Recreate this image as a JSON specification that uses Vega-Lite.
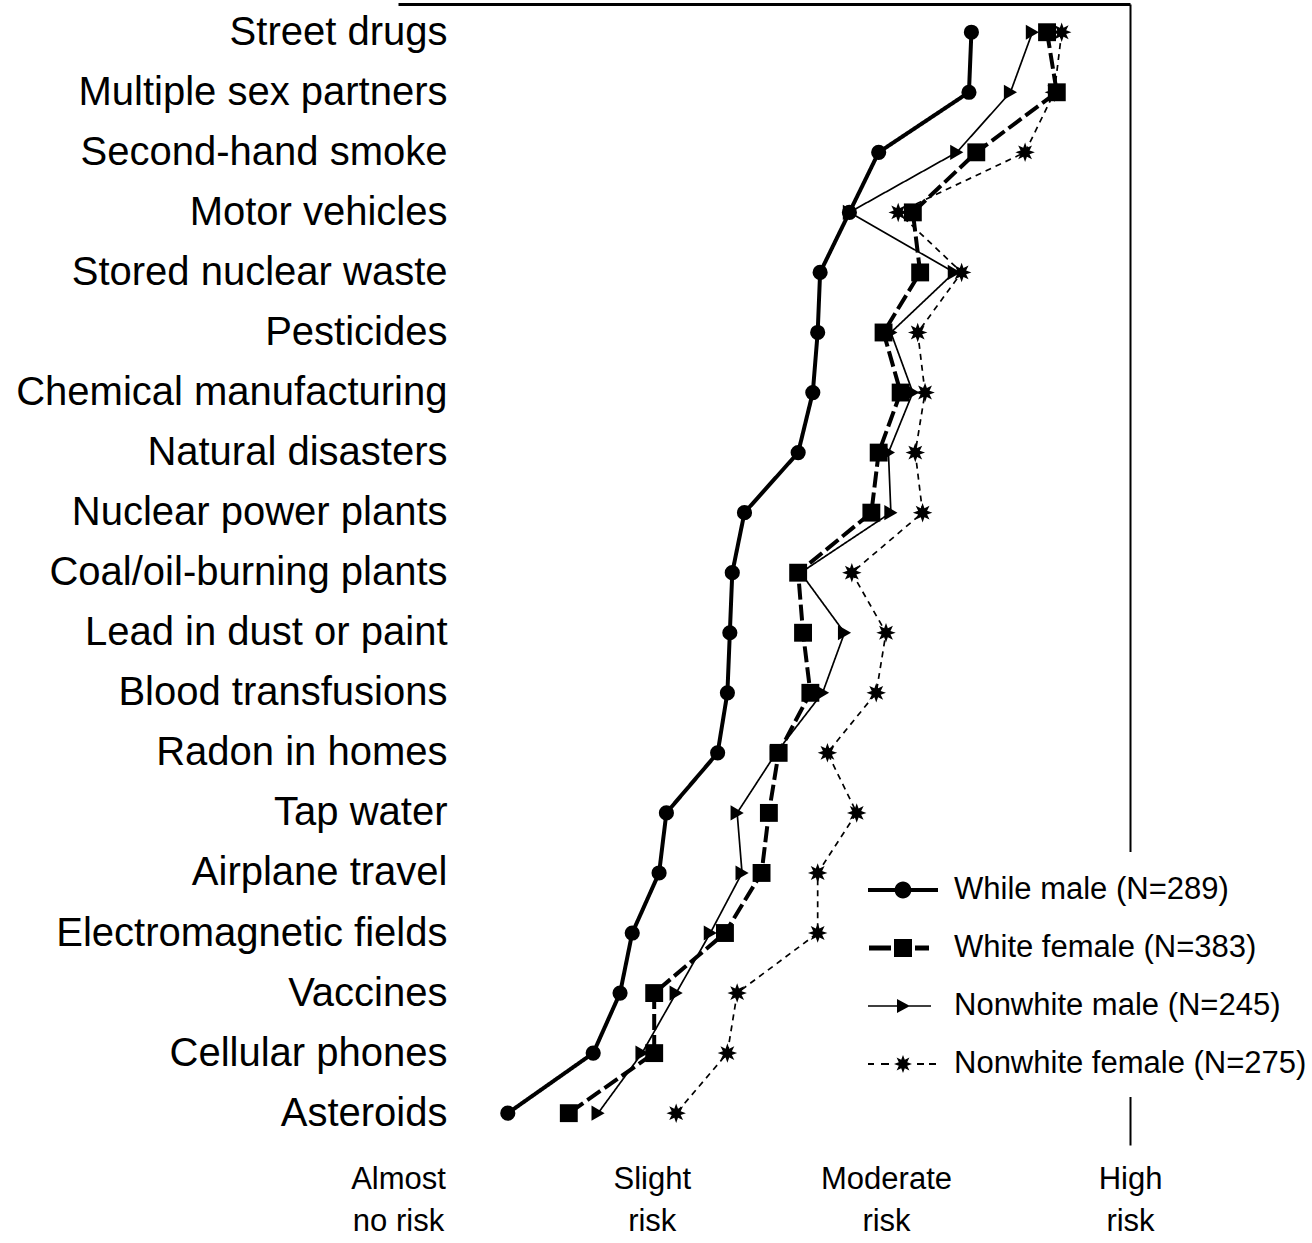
{
  "$schema": "https://vega.github.io/schema/vega-lite/v6.json",
  "autosize": "none",
  "padding": {"left": 398, "top": 4, "right": 182, "bottom": 98},
  "width": 732,
  "height": 1141,
  "background": "white",
  "config": {"view": {"stroke": null}, "font": "Liberation Sans"},
  "data": {"values": [
    {"risk": "Street drugs", "group": "While male (N=289)", "value": 3.35},
    {"risk": "Multiple sex partners", "group": "While male (N=289)", "value": 3.34},
    {"risk": "Second-hand smoke", "group": "While male (N=289)", "value": 2.97},
    {"risk": "Motor vehicles", "group": "While male (N=289)", "value": 2.85},
    {"risk": "Stored nuclear waste", "group": "While male (N=289)", "value": 2.73},
    {"risk": "Pesticides", "group": "While male (N=289)", "value": 2.72},
    {"risk": "Chemical manufacturing", "group": "While male (N=289)", "value": 2.70},
    {"risk": "Natural disasters", "group": "While male (N=289)", "value": 2.64},
    {"risk": "Nuclear power plants", "group": "While male (N=289)", "value": 2.42},
    {"risk": "Coal/oil-burning plants", "group": "While male (N=289)", "value": 2.37},
    {"risk": "Lead in dust or paint", "group": "While male (N=289)", "value": 2.36},
    {"risk": "Blood transfusions", "group": "While male (N=289)", "value": 2.35},
    {"risk": "Radon in homes", "group": "While male (N=289)", "value": 2.31},
    {"risk": "Tap water", "group": "While male (N=289)", "value": 2.10},
    {"risk": "Airplane travel", "group": "While male (N=289)", "value": 2.07},
    {"risk": "Electromagnetic fields", "group": "While male (N=289)", "value": 1.96},
    {"risk": "Vaccines", "group": "While male (N=289)", "value": 1.91},
    {"risk": "Cellular phones", "group": "While male (N=289)", "value": 1.80},
    {"risk": "Asteroids", "group": "While male (N=289)", "value": 1.45},
    {"risk": "Street drugs", "group": "White female (N=383)", "value": 3.66},
    {"risk": "Multiple sex partners", "group": "White female (N=383)", "value": 3.70},
    {"risk": "Second-hand smoke", "group": "White female (N=383)", "value": 3.37},
    {"risk": "Motor vehicles", "group": "White female (N=383)", "value": 3.11},
    {"risk": "Stored nuclear waste", "group": "White female (N=383)", "value": 3.14},
    {"risk": "Pesticides", "group": "White female (N=383)", "value": 2.99},
    {"risk": "Chemical manufacturing", "group": "White female (N=383)", "value": 3.06},
    {"risk": "Natural disasters", "group": "White female (N=383)", "value": 2.97},
    {"risk": "Nuclear power plants", "group": "White female (N=383)", "value": 2.94},
    {"risk": "Coal/oil-burning plants", "group": "White female (N=383)", "value": 2.64},
    {"risk": "Lead in dust or paint", "group": "White female (N=383)", "value": 2.66},
    {"risk": "Blood transfusions", "group": "White female (N=383)", "value": 2.69},
    {"risk": "Radon in homes", "group": "White female (N=383)", "value": 2.56},
    {"risk": "Tap water", "group": "White female (N=383)", "value": 2.52},
    {"risk": "Airplane travel", "group": "White female (N=383)", "value": 2.49},
    {"risk": "Electromagnetic fields", "group": "White female (N=383)", "value": 2.34},
    {"risk": "Vaccines", "group": "White female (N=383)", "value": 2.05},
    {"risk": "Cellular phones", "group": "White female (N=383)", "value": 2.05},
    {"risk": "Asteroids", "group": "White female (N=383)", "value": 1.70},
    {"risk": "Street drugs", "group": "Nonwhite male (N=245)", "value": 3.60},
    {"risk": "Multiple sex partners", "group": "Nonwhite male (N=245)", "value": 3.51},
    {"risk": "Second-hand smoke", "group": "Nonwhite male (N=245)", "value": 3.29},
    {"risk": "Motor vehicles", "group": "Nonwhite male (N=245)", "value": 2.85},
    {"risk": "Stored nuclear waste", "group": "Nonwhite male (N=245)", "value": 3.28},
    {"risk": "Pesticides", "group": "Nonwhite male (N=245)", "value": 3.02},
    {"risk": "Chemical manufacturing", "group": "Nonwhite male (N=245)", "value": 3.11},
    {"risk": "Natural disasters", "group": "Nonwhite male (N=245)", "value": 3.01},
    {"risk": "Nuclear power plants", "group": "Nonwhite male (N=245)", "value": 3.02},
    {"risk": "Coal/oil-burning plants", "group": "Nonwhite male (N=245)", "value": 2.65},
    {"risk": "Lead in dust or paint", "group": "Nonwhite male (N=245)", "value": 2.83},
    {"risk": "Blood transfusions", "group": "Nonwhite male (N=245)", "value": 2.74},
    {"risk": "Radon in homes", "group": "Nonwhite male (N=245)", "value": 2.55},
    {"risk": "Tap water", "group": "Nonwhite male (N=245)", "value": 2.39},
    {"risk": "Airplane travel", "group": "Nonwhite male (N=245)", "value": 2.41},
    {"risk": "Electromagnetic fields", "group": "Nonwhite male (N=245)", "value": 2.28},
    {"risk": "Vaccines", "group": "Nonwhite male (N=245)", "value": 2.14},
    {"risk": "Cellular phones", "group": "Nonwhite male (N=245)", "value": 2.00},
    {"risk": "Asteroids", "group": "Nonwhite male (N=245)", "value": 1.82},
    {"risk": "Street drugs", "group": "Nonwhite female (N=275)", "value": 3.72},
    {"risk": "Multiple sex partners", "group": "Nonwhite female (N=275)", "value": 3.69},
    {"risk": "Second-hand smoke", "group": "Nonwhite female (N=275)", "value": 3.57},
    {"risk": "Motor vehicles", "group": "Nonwhite female (N=275)", "value": 3.05},
    {"risk": "Stored nuclear waste", "group": "Nonwhite female (N=275)", "value": 3.31},
    {"risk": "Pesticides", "group": "Nonwhite female (N=275)", "value": 3.13},
    {"risk": "Chemical manufacturing", "group": "Nonwhite female (N=275)", "value": 3.16},
    {"risk": "Natural disasters", "group": "Nonwhite female (N=275)", "value": 3.12},
    {"risk": "Nuclear power plants", "group": "Nonwhite female (N=275)", "value": 3.15},
    {"risk": "Coal/oil-burning plants", "group": "Nonwhite female (N=275)", "value": 2.86},
    {"risk": "Lead in dust or paint", "group": "Nonwhite female (N=275)", "value": 3.00},
    {"risk": "Blood transfusions", "group": "Nonwhite female (N=275)", "value": 2.96},
    {"risk": "Radon in homes", "group": "Nonwhite female (N=275)", "value": 2.76},
    {"risk": "Tap water", "group": "Nonwhite female (N=275)", "value": 2.88},
    {"risk": "Airplane travel", "group": "Nonwhite female (N=275)", "value": 2.72},
    {"risk": "Electromagnetic fields", "group": "Nonwhite female (N=275)", "value": 2.72},
    {"risk": "Vaccines", "group": "Nonwhite female (N=275)", "value": 2.39},
    {"risk": "Cellular phones", "group": "Nonwhite female (N=275)", "value": 2.35},
    {"risk": "Asteroids", "group": "Nonwhite female (N=275)", "value": 2.14}
  ]},
  "layer": [
    {
      "mark": {"type": "line", "color": "black"},
      "encoding": {
        "x": {"field": "value", "type": "quantitative",
          "scale": {"domain": [1, 4], "nice": false, "zero": false},
          "axis": {"orient": "bottom", "title": null, "domain": false, "ticks": false, "grid": false,
            "values": [1, 2.04, 3, 4],
            "labelExpr": "datum.value == 1 ? ['Almost', 'no risk'] : datum.value == 4 ? ['High', 'risk'] : datum.value < 2.5 ? ['Slight', 'risk'] : ['Moderate', 'risk']",
            "labelFontSize": 31, "labelLineHeight": 42, "labelPadding": 19, "labelBaseline": "top",
            "labelColor": "black", "labelFont": "Liberation Sans", "labelFlush": false, "labelOverlap": false, "labelAlign": "center"}},
        "y": {"field": "risk", "type": "nominal",
          "sort": ["Street drugs", "Multiple sex partners", "Second-hand smoke", "Motor vehicles", "Stored nuclear waste", "Pesticides", "Chemical manufacturing", "Natural disasters", "Nuclear power plants", "Coal/oil-burning plants", "Lead in dust or paint", "Blood transfusions", "Radon in homes", "Tap water", "Airplane travel", "Electromagnetic fields", "Vaccines", "Cellular phones", "Asteroids"],
          "scale": {"type": "point", "padding": 0.5, "align": 0.47},
          "axis": {"orient": "left", "title": null, "domain": false, "ticks": false, "grid": false,
            "labelFontSize": 40, "labelPadding": 0, "offset": -49, "labelLimit": 700,
            "labelColor": "black", "labelFont": "Liberation Sans"}},
        "detail": {"field": "group", "type": "nominal"},
        "strokeDash": {"condition": [
          {"test": "datum.group === 'White female (N=383)'", "value": [16, 5]},
          {"test": "datum.group === 'Nonwhite female (N=275)'", "value": [6, 5]}
        ], "value": [1, 0]},
        "strokeWidth": {"condition": {"test": "datum.group === 'While male (N=289)' || datum.group === 'White female (N=383)'", "value": 4}, "value": 1.7},
        "order": {"value": null}
      }
    },
    {
      "mark": {"type": "point", "filled": true, "color": "black", "opacity": 1},
      "encoding": {
        "x": {"field": "value", "type": "quantitative",
          "axis": {"orient": "top", "title": null, "labels": false, "ticks": false, "grid": false,
            "domain": true, "domainColor": "black", "domainWidth": 3}},
        "y": {"field": "risk", "type": "nominal",
          "sort": ["Street drugs", "Multiple sex partners", "Second-hand smoke", "Motor vehicles", "Stored nuclear waste", "Pesticides", "Chemical manufacturing", "Natural disasters", "Nuclear power plants", "Coal/oil-burning plants", "Lead in dust or paint", "Blood transfusions", "Radon in homes", "Tap water", "Airplane travel", "Electromagnetic fields", "Vaccines", "Cellular phones", "Asteroids"],
          "axis": {"orient": "right", "title": null, "labels": false, "ticks": false, "grid": false,
            "domain": true, "domainColor": "black", "domainWidth": 2}},
        "shape": {"field": "group", "type": "nominal", "legend": null,
          "scale": {"domain": ["While male (N=289)", "White female (N=383)", "Nonwhite male (N=245)", "Nonwhite female (N=275)"],
            "range": ["circle", "square", "triangle-right", "M1,0L0.46,0.19L0.71,0.71L0.19,0.46L0,1L-0.19,0.46L-0.71,0.71L-0.46,0.19L-1,0L-0.46,-0.19L-0.71,-0.71L-0.19,-0.46L0,-1L0.19,-0.46L0.71,-0.71L0.46,-0.19Z"]}},
        "size": {"condition": [
          {"test": "datum.group === 'White female (N=383)'", "value": 320},
          {"test": "datum.group === 'Nonwhite female (N=275)'", "value": 380}
        ], "value": 230}
      }
    },
    {
      "mark": {"type": "point", "filled": true, "color": "black", "opacity": 0, "strokeWidth": 0},
      "encoding": {
        "x": {"field": "value", "type": "quantitative", "axis": null},
        "y": {"field": "risk", "type": "nominal", "axis": null,
          "sort": ["Street drugs", "Multiple sex partners", "Second-hand smoke", "Motor vehicles", "Stored nuclear waste", "Pesticides", "Chemical manufacturing", "Natural disasters", "Nuclear power plants", "Coal/oil-burning plants", "Lead in dust or paint", "Blood transfusions", "Radon in homes", "Tap water", "Airplane travel", "Electromagnetic fields", "Vaccines", "Cellular phones", "Asteroids"]},
        "shape": {"field": "group", "type": "nominal",
          "scale": {"domain": ["While male (N=289)", "White female (N=383)", "Nonwhite male (N=245)", "Nonwhite female (N=275)"],
            "range": [
              "M-1.75,-0.1H1.75V0.1H-1.75ZM0.42,0A0.42,0.42,0,1,1,-0.42,0A0.42,0.42,0,1,1,0.42,0Z",
              "M-1.7,-0.12H-0.6V0.12H-1.7ZM-0.45,-0.45H0.45V0.45H-0.45ZM0.6,-0.12H1.3V0.12H0.6Z",
              "M-1.75,-0.04H1.4V0.04H-1.75ZM-0.3,-0.35L0.35,0L-0.3,0.35Z",
              "M-1.75,-0.05H-1.45V0.05H-1.75ZM-1.1,-0.05H-0.7V0.05H-1.1ZM0.7,-0.05H1.05V0.05H0.7ZM1.3,-0.05H1.65V0.05H1.3ZM0.45,0L0.21,0.09L0.32,0.32L0.09,0.21L0,0.45L-0.09,0.21L-0.32,0.32L-0.21,0.09L-0.45,0L-0.21,-0.09L-0.32,-0.32L-0.09,-0.21L0,-0.45L0.09,-0.21L0.32,-0.32L0.21,-0.09Z"
            ]},
          "legend": {
            "orient": "none", "legendX": 467, "legendY": 848, "title": null,
            "fillColor": "white", "padding": 18, "rowPadding": 23,
            "symbolSize": 1600, "symbolOpacity": 1, "symbolFillColor": "black", "symbolStrokeWidth": 0,
            "labelOffset": 31, "labelFontSize": 31, "labelFont": "Liberation Sans",
            "labelColor": "black", "labelLimit": 600
          }}
      }
    }
  ],
  "resolve": {
    "axis": {"x": "independent", "y": "independent"},
    "scale": {"shape": "independent"},
    "legend": {"shape": "independent"}
  }
}
